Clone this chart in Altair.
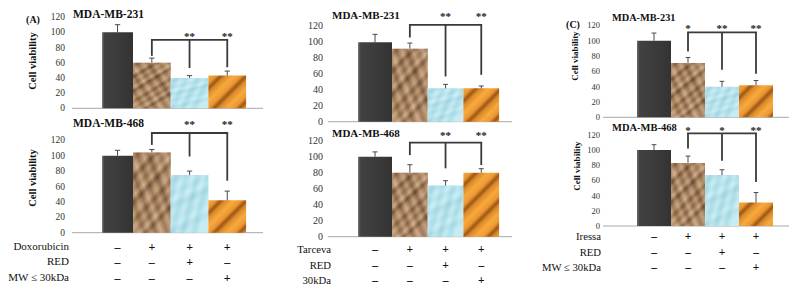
import math
import altair as alt
import pandas as pd

# ---------------- data ----------------
treatments = ["Control", "Drug", "Drug + RED", "Drug + MW≤30kDa"]
bar_index = [1, 2, 3, 4]
cell_lines = ["MDA-MB-231", "MDA-MB-468"]
tick_values = [0, 20, 40, 60, 80, 100, 120]

# (A) Doxorubicin
dox_231_mean = [100, 60, 40, 43]
dox_231_sd = [10, 6, 3, 6]
dox_468_mean = [100, 104, 75, 42]
dox_468_sd = [7, 4, 5, 12]
# (B) Tarceva
tar_231_mean = [100, 92, 42, 42]
tar_231_sd = [10, 7, 5, 3]
tar_468_mean = [100, 80, 64, 80]
tar_468_sd = [6, 10, 6, 5]
# (C) Iressa
ire_231_mean = [100, 71, 40, 42]
ire_231_sd = [10, 7, 7, 6]
ire_468_mean = [100, 83, 67, 31]
ire_468_sd = [7, 9, 7, 13]

# significance brackets: bracket level, drop ends at bars 2,3,4, star labels, star level
dox_231_bracket = [90, 69, 53, 54]
dox_231_stars = ["", "**", "**"]
dox_231_star_level = 97
dox_468_bracket = [129.5, 114, 99, 67.5]
dox_468_stars = ["", "**", "**"]
dox_468_star_level = 143
tar_231_bracket = [122, 106, 57, 59]
tar_231_stars = ["", "**", "**"]
tar_231_star_level = 134
tar_468_bracket = [117.5, 102, 85.5, 89.5]
tar_468_stars = ["", "**", "**"]
tar_468_star_level = 128
ire_231_bracket = [111, 86, 62, 57]
ire_231_stars = ["*", "**", "**"]
ire_231_star_level = 118.5
ire_468_bracket = [122, 102, 86, 58]
ire_468_stars = ["*", "*", "**"]
ire_468_star_level = 127.5

# treatment table
row_labels_A = ["Doxorubicin", "RED", "MW ≤ 30kDa"]
row_labels_B = ["Tarceva", "RED", "30kDa"]
row_labels_C = ["Iressa", "RED", "MW ≤ 30kDa"]
drug_row = ["–", "+", "+", "+"]
red_row = ["–", "–", "+", "–"]
kda_row = ["–", "–", "–", "+"]
table_rows = [drug_row, red_row, kda_row]

# ---------------- styling / layout ----------------
M = 8
FONT = "'Liberation Serif', 'Times New Roman', 'DejaVu Serif', serif"
LINE = "#3a3a3a"
ERR = "#4a4a4a"


def linear(stops, x1=0, y1=0, x2=1, y2=0):
    return alt.LinearGradient(
        gradient="linear",
        stops=[alt.GradientStop(offset=float(o), color=c) for o, c in stops],
        x1=x1, y1=y1, x2=x2, y2=y2)


def even(colors):
    n = len(colors) - 1
    return [(i / n, c) for i, c in enumerate(colors)]


DARK = linear([(0, "#6a6a6a"), (0.08, "#414141"), (0.6, "#3a3a3a"), (1, "#333333")])
BROWN_BASE = linear(even(["#c4a07c", "#8c6546", "#b99470", "#d0ad89", "#7a5538", "#bb9672",
                          "#a17a58", "#cfac88", "#6f4c32", "#b48e6a", "#c9a581", "#85603f",
                          "#bf9a76", "#9a7352", "#d3b08c", "#7e5a3e", "#c09b77"]), 0, 0, 0.5, 1)
BROWN_OVER = linear(even(["#5a3c24", "#e2c6a4", "#8e6a4a", "#d9bb97", "#4e3320", "#c9a683",
                          "#6a4a30", "#e0c3a0", "#5f4029", "#d2b28f", "#75532f", "#dcc09c"]), 1, 0, 0, 0.8)
BLUE_BASE = linear(even(["#aee1eb", "#9fd7e5", "#b6e6ef", "#a4dbe7", "#bde9f1", "#9ad3e1",
                         "#b0e2ec", "#a7dde8", "#b9e7f0", "#9ed6e4", "#b2e3ed"]), 0, 0, 0.3, 1)
BLUE_OVER = linear(even(["#ffffff", "#9ccfdd", "#ffffff", "#a8d8e4", "#ffffff", "#98cedc",
                         "#ffffff", "#a2d6e2", "#ffffff"]), 0, 0, 1, 0.4)


def stripe_gradient(W, H, period=18.0):
    r = H / W
    s = (1 + r) / (1 + r * r)
    D = (W + H) / math.sqrt(2)
    n = D / period
    pattern = [(0.0, "#f7aa3e"), (0.3, "#ec9630"), (0.5, "#9b5716"), (0.68, "#dc8a28")]
    stops = []
    k = 0
    done = False
    while not done:
        for fr, col in pattern:
            t = (k + fr) / n
            if t > 1:
                done = True
                break
            stops.append((t, col))
        k += 1
    stops.append((1.0, "#e89a34"))
    return linear(stops, 0, 0, s, s * r)


columns = {
    "A": dict(bar2_left=133.0, w=37.7, first_frac=0.82, ax_l=72, ax_r=263, tick_right=65,
              tick_size=9.5, label_right=69, label_size=11, sym_size=12),
    "B": dict(bar2_left=392.0, w=35.7, first_frac=0.95, ax_l=328, ax_r=512, tick_right=323,
              tick_size=10, label_right=331, label_size=10.7, sym_size=11.5),
    "C": dict(bar2_left=671.0, w=34.0, first_frac=1.0, ax_l=603, ax_r=789, tick_right=600,
              tick_size=8.5, label_right=601, label_size=10.7, sym_size=11.5),
}

panels_spec = [
    dict(col="A", y0=108.3, y120=17.1, mean=dox_231_mean, sd=dox_231_sd, br=dox_231_bracket,
         stars=dox_231_stars, star_level=dox_231_star_level, title=cell_lines[0],
         title_xy=(73, 15), title_size=11.5, ylabel_xy=(33, 61), ylabel_size=10.5,
         letter="(A)", letter_xy=(33, 20)),
    dict(col="A", y0=232.7, y120=140.3, mean=dox_468_mean, sd=dox_468_sd, br=dox_468_bracket,
         stars=dox_468_stars, star_level=dox_468_star_level, title=cell_lines[1],
         title_xy=(73, 123.5), title_size=11.5, ylabel_xy=(33, 178), ylabel_size=10.5,
         table=row_labels_A, rows_y=[246.7, 262.3, 278.3]),
    dict(col="B", y0=121.7, y120=26.4, mean=tar_231_mean, sd=tar_231_sd, br=tar_231_bracket,
         stars=tar_231_stars, star_level=tar_231_star_level, title=cell_lines[0],
         title_xy=(332, 15.5), title_size=11),
    dict(col="B", y0=236.7, y120=140.7, mean=tar_468_mean, sd=tar_468_sd, br=tar_468_bracket,
         stars=tar_468_stars, star_level=tar_468_star_level, title=cell_lines[1],
         title_xy=(332, 134.3), title_size=11,
         table=row_labels_B, rows_y=[249.5, 265.5, 280.5]),
    dict(col="C", y0=117.3, y120=25.4, mean=ire_231_mean, sd=ire_231_sd, br=ire_231_bracket,
         stars=ire_231_stars, star_level=ire_231_star_level, title=cell_lines[0],
         title_xy=(612, 18.3), title_size=10.3, ylabel_xy=(575, 56), ylabel_size=9,
         letter="(C)", letter_xy=(573, 25)),
    dict(col="C", y0=226.0, y120=134.8, mean=ire_468_mean, sd=ire_468_sd, br=ire_468_bracket,
         stars=ire_468_stars, star_level=ire_468_star_level, title=cell_lines[1],
         title_xy=(612, 128.3), title_size=10.5, ylabel_xy=(577, 166), ylabel_size=9,
         table=row_labels_C, rows_y=[236.7, 252.7, 268.3]),
]


def text_at(txt, px, py, **kw):
    return alt.Chart(pd.DataFrame({"t": [txt]})).mark_text(font=FONT, **kw).encode(
        x=alt.value(px - M), y=alt.value(py - M), text="t:N")


def build_panel(p):
    c = columns[p["col"]]
    w = c["w"]

    def u(px):
        return 1.5 + (px - c["bar2_left"]) / w

    u_lo, u_hi = u(c["ax_l"]), u(c["ax_r"])
    xs = alt.Scale(domain=[u_lo, u_hi], range=[c["ax_l"] - M, c["ax_r"] - M])
    ys = alt.Scale(domain=[0, 120], range=[p["y0"] - M, p["y120"] - M])
    ppu = (p["y0"] - p["y120"]) / 120.0

    def X(f):
        return alt.X(f, type="quantitative", scale=xs, axis=None)

    def Y(f):
        return alt.Y(f, type="quantitative", scale=ys, axis=None)

    f = c["first_frac"]
    left = [1.5 - f] + [i - 0.5 for i in bar_index[1:]]
    right = [1.5] + [i + 0.5 for i in bar_index[1:]]
    df = pd.DataFrame({"idx": bar_index, "treatment": treatments, "mean": p["mean"],
                       "sd": p["sd"], "left": left, "right": right})
    df["ctr"] = (df["left"] + df["right"]) / 2
    df["top"] = df["mean"] + df["sd"]
    df["cap_l"] = df["ctr"] - 0.07
    df["cap_r"] = df["ctr"] + 0.07
    base = alt.Chart(df)

    parts = []
    # baseline
    parts.append(alt.Chart(pd.DataFrame({"z": [0]})).mark_rule(color="#a8a8a8", strokeWidth=1).encode(
        x=alt.X(datum=u_lo, type="quantitative", scale=xs, axis=None),
        x2=alt.X2(datum=u_hi), y=Y("z")))
    # tick labels
    parts.append(alt.Chart(pd.DataFrame({"v": tick_values})).mark_text(
        font=FONT, fontSize=c["tick_size"], align="right", baseline="middle", color="#333333",
        dx=-(c["ax_l"] - c["tick_right"])).encode(
        x=alt.X(datum=u_lo, type="quantitative", scale=xs, axis=None),
        y=Y("v"), text=alt.Text("v:Q", format="d")))

    def bar(fill, k, **kw):
        return base.mark_rect(fill=fill, **kw).encode(
            x=X("left"), x2=alt.X2("right"), y=Y("mean"), y2=alt.Y2(datum=0)
        ).transform_filter(alt.datum.idx == k)

    parts.append(bar(DARK, 1))
    parts.append(bar(BROWN_BASE, 2))
    parts.append(bar(BROWN_OVER, 2, fillOpacity=0.4))
    parts.append(bar(BLUE_BASE, 3))
    parts.append(bar(BLUE_OVER, 3, fillOpacity=0.3))
    parts.append(bar(stripe_gradient(w, p["mean"][3] * ppu), 4))

    # error bars
    parts.append(base.mark_rule(color=ERR, strokeWidth=1).encode(
        x=X("ctr"), y=Y("mean"), y2=alt.Y2("top")))
    parts.append(base.mark_rule(color=ERR, strokeWidth=1).encode(
        x=X("cap_l"), x2=alt.X2("cap_r"), y=Y("top")))

    # significance bracket
    level = p["br"][0]
    ctrs = list(df["ctr"])
    hdf = pd.DataFrame({"a": [ctrs[1]], "b": [ctrs[3]], "lev": [level]})
    parts.append(alt.Chart(hdf).mark_rule(color=LINE, strokeWidth=1.8, strokeCap="square").encode(
        x=X("a"), x2=alt.X2("b"), y=Y("lev")))
    vdf = pd.DataFrame({"ctr": ctrs[1:], "drop": p["br"][1:], "lev": [level] * 3,
                        "star": p["stars"], "sl": [p["star_level"]] * 3})
    parts.append(alt.Chart(vdf).mark_rule(color=LINE, strokeWidth=1.8).encode(
        x=X("ctr"), y=Y("drop"), y2=alt.Y2("lev")))
    parts.append(alt.Chart(vdf).mark_text(font=FONT, fontSize=11, fontWeight="bold",
                                          baseline="middle", dy=2, color="#222222").encode(
        x=X("ctr"), y=Y("sl"), text="star:N"))

    # titles
    tx, ty = p["title_xy"]
    parts.append(text_at(p["title"], tx, ty, fontSize=p["title_size"], fontWeight="bold",
                         align="left", baseline="middle", color="#111111"))
    if "ylabel_xy" in p:
        lx, ly = p["ylabel_xy"]
        parts.append(text_at("Cell viability", lx, ly, fontSize=p["ylabel_size"], fontWeight="bold",
                             angle=270, align="center", baseline="middle", color="#111111"))
    if "letter" in p:
        lx, ly = p["letter_xy"]
        parts.append(text_at(p["letter"], lx, ly, fontSize=10, fontWeight="bold",
                             align="center", baseline="middle", color="#111111"))

    # treatment table
    if "table" in p:
        for r, (lab, ry) in enumerate(zip(p["table"], p["rows_y"])):
            parts.append(text_at(lab, c["label_right"], ry, fontSize=c["label_size"],
                                 align="right", baseline="middle", color="#111111"))
            tdf = pd.DataFrame({"ctr": ctrs, "sym": table_rows[r]})
            parts.append(alt.Chart(tdf).mark_text(font=FONT, fontSize=c["sym_size"], fontWeight="bold",
                                                  align="center", baseline="middle", color="#111111").encode(
                x=X("ctr"), y=alt.value(ry - M), text="sym:N"))

    return alt.layer(*parts)


chart = alt.layer(*[build_panel(p) for p in panels_spec]).resolve_scale(
    x="independent", y="independent"
).properties(
    width=781, height=276, autosize=alt.AutoSizeParams(type="none"), padding=0
).configure_view(stroke=None)

chart.save("out.html", embed_options={"renderer": "svg", "actions": False})
